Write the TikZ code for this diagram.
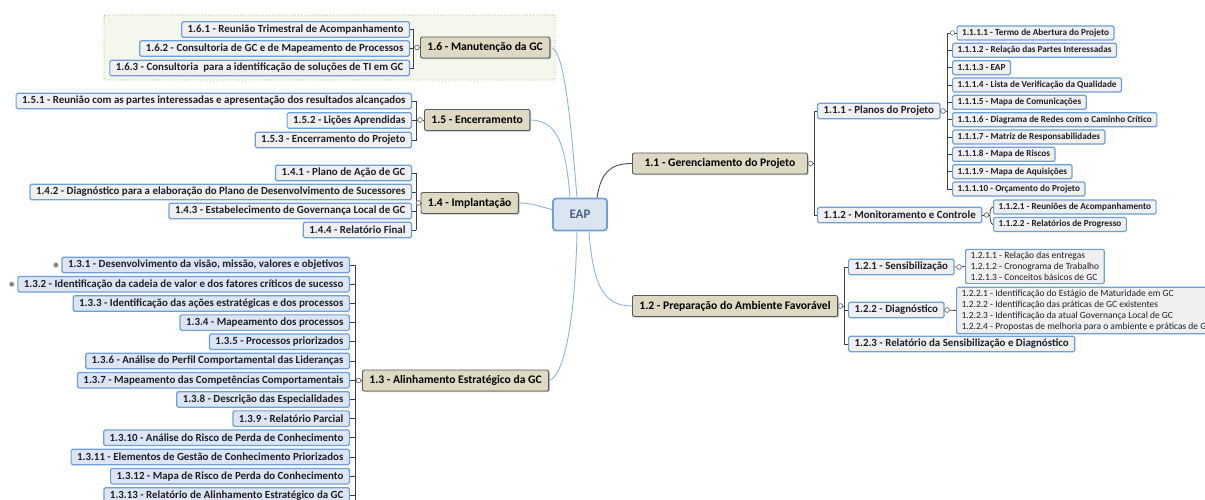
\documentclass[tikz,border=0pt]{standalone}
\usepackage{fontspec}
\setmainfont{Carlito}
\usetikzlibrary{shadows}

\definecolor{topicblue}{HTML}{6F9FD8}
\definecolor{subgray}{HTML}{F0F0F0}
\definecolor{subblue}{HTML}{DCE6F2}
\definecolor{mainfill}{HTML}{DDD9C3}
\definecolor{mainedge}{HTML}{5A5A5A}
\definecolor{linkblue}{HTML}{8EB4E3}
\definecolor{rootfill}{HTML}{DBE5F1}
\definecolor{roottext}{HTML}{4A6282}
\definecolor{zonefill}{HTML}{F4F7EC}
\definecolor{zoneedge}{HTML}{9BBB59}
\definecolor{inktext}{HTML}{1E1E2A}

\begin{document}
\begin{tikzpicture}[x=1pt,y=-1pt,
  root/.style={draw=topicblue, line width=1.8pt, fill=rootfill, rounded corners=3pt,
    minimum width=54pt, minimum height=32pt, text=roottext,
    font=\fontsize{13}{15}\selectfont\bfseries},
  main/.style={draw=mainedge, line width=0.9pt, fill=mainfill, rounded corners=2pt,
    inner xsep=7pt, inner ysep=0pt, minimum height=21pt, text=black,
    font=\fontsize{11.6}{13}\selectfont\bfseries,
    drop shadow={shadow xshift=1.2pt, shadow yshift=-1.2pt, fill=black, opacity=.25}},
  sub/.style={draw=topicblue, line width=1.2pt, fill=subgray, rounded corners=1.5pt,
    inner xsep=6pt, inner ysep=0pt, minimum height=15.5pt, text=inktext,
    font=\fontsize{10.9}{12}\selectfont\bfseries},
  subb/.style={sub, fill=subblue},
  leaf/.style={sub, minimum height=14pt, inner xsep=5pt,
    font=\fontsize{9.2}{10}\selectfont\bfseries},
  note/.style={draw=topicblue, line width=1.2pt, fill=subgray, rounded corners=1.5pt,
    align=left, inner xsep=5pt, inner ysep=3pt, text=inktext,
    font=\fontsize{9.5}{10.8}\selectfont},
  bar/.style={draw=black!75, line width=0.8pt},
  knob/.style={circle, draw=black!55, fill=white, line width=0.6pt, inner sep=0pt, minimum size=4.6pt},
  dot/.style={circle, fill=black!50, draw=black!25, line width=0.6pt, inner sep=0pt, minimum size=4.8pt},
  link/.style={draw=linkblue, line width=0.9pt},
  darklink/.style={draw=black!70, line width=0.9pt},
  zone/.style={draw=zoneedge, fill=zonefill, dotted, line width=0.9pt, rounded corners=2pt}
]
\useasboundingbox (0,0) rectangle (1205,500);
\clip (0,0) rectangle (1205,500);
\fill[white] (0,0) rectangle (1205,500);

% boundary of the maintenance group
\path[zone] (104,15) rectangle (555,80);

% ---------- central node and first-level topics ----------
\node[root] (eap) at (580,214.5) {EAP};

\node[main, anchor=west, minimum width=175pt] (n11) at (632,163.5) {1.1 - Gerenciamento do Projeto};
\node[main, anchor=west] (n12) at (632,306) {1.2 - Preparação do Ambiente Favorável};
\node[main, anchor=west] (n13) at (362,380.5) {1.3 - Alinhamento Estratégico da GC};
\node[main, anchor=west] (n14) at (420.5,203) {1.4 - Implantação};
\node[main, anchor=west] (n15) at (424,120) {1.5 - Encerramento};
\node[main, anchor=west] (n16) at (420,47.5) {1.6 - Manutenção da GC};

% ---------- links from the centre ----------
\draw[link] (n16.east) .. controls +(12,0) and +(-8,-100) .. ([xshift=-3pt]eap.north);
\draw[link] (n15.east) .. controls +(28,0) and +(-4,-50) .. ([xshift=-10pt]eap.north);
\draw[link] (n14.east) .. controls +(15,0) and +(-10,-2) .. ([yshift=5pt]eap.west);
\draw[link] ([xshift=-3pt]eap.south) .. controls +(-2,95) and +(14,-4) .. (n13.east);
\draw[link] ([xshift=9pt]eap.south) .. controls +(4,55) and +(-28,0) .. (n12.west);
\draw[darklink] ([xshift=17pt]eap.north) .. controls +(4,-25) and +(-22,0) .. (n11.west);

% ---------- 1.6 ----------
\node[sub, anchor=east] (n161) at (410,29.5) {1.6.1 - Reunião Trimestral de Acompanhamento};
\node[sub, anchor=east] (n162) at (410,48.5) {1.6.2 - Consultoria de GC e de Mapeamento de Processos};
\node[sub, anchor=east] (n163) at (410,68) {1.6.3 - Consultoria\ \ para a identificação de soluções de TI em GC};
\coordinate (b16) at (413.5,47.5);
\foreach \c in {n161,n162,n163} \draw[bar] (\c.east) -- (\c.east -| b16);
\draw[bar] (n161.east -| b16) -- (n163.east -| b16);
\node[knob] (k16) at (417,47.5) {};
\draw[bar] (b16) -- (k16) (k16) -- (n16.west);
\node[knob] at (k16) {};

% ---------- 1.5 ----------
\node[sub, anchor=east] (n151) at (412,101) {1.5.1 - Reunião com as partes interessadas e apresentação dos resultados alcançados};
\node[sub, anchor=east] (n152) at (412,120.5) {1.5.2 - Lições Aprendidas};
\node[sub, anchor=east] (n153) at (412,140) {1.5.3 - Encerramento do Projeto};
\coordinate (b15) at (416.5,120);
\foreach \c in {n151,n152,n153} \draw[bar] (\c.east) -- (\c.east -| b15);
\draw[bar] (n151.east -| b15) -- (n153.east -| b15);
\node[knob] (k15) at (420,120) {};
\draw[bar] (b15) -- (k15) (k15) -- (n15.west);
\node[knob] at (k15) {};

% ---------- 1.4 ----------
\node[sub, anchor=east] (n141) at (412,173) {1.4.1 - Plano de Ação de GC};
\node[sub, anchor=east] (n142) at (412,192) {1.4.2 - Diagnóstico para a elaboração do Plano de Desenvolvimento de Sucessores};
\node[sub, anchor=east] (n143) at (412,211) {1.4.3 - Estabelecimento de Governança Local de GC};
\node[sub, anchor=east] (n144) at (412,230) {1.4.4 - Relatório Final};
\coordinate (b14) at (416,203);
\foreach \c in {n141,n142,n143,n144} \draw[bar] (\c.east) -- (\c.east -| b14);
\draw[bar] (n141.east -| b14) -- (n144.east -| b14);
\node[knob] (k14) at (418.5,203) {};
\draw[bar] (b14) -- (k14) (k14) -- (n14.west);
\node[knob] at (k14) {};

% ---------- 1.3 ----------
\node[subb, anchor=east] (n131)  at (350,265)   {1.3.1 - Desenvolvimento da visão, missão, valores e objetivos};
\node[subb, anchor=east] (n132)  at (350,284.2) {1.3.2 - Identificação da cadeia de valor e dos fatores críticos de sucesso};
\node[subb, anchor=east] (n133)  at (350,303.4) {1.3.3 - Identificação das ações estratégicas e dos processos};
\node[subb, anchor=east] (n134)  at (350,322.6) {1.3.4 - Mapeamento dos processos};
\node[subb, anchor=east] (n135)  at (350,341.8) {1.3.5 - Processos priorizados};
\node[subb, anchor=east] (n136)  at (350,361)   {1.3.6 - Análise do Perfil Comportamental das Lideranças};
\node[subb, anchor=east] (n137)  at (350,380.2) {1.3.7 - Mapeamento das Competências Comportamentais};
\node[subb, anchor=east] (n138)  at (350,399.4) {1.3.8 - Descrição das Especialidades};
\node[subb, anchor=east] (n139)  at (350,418.6) {1.3.9 - Relatório Parcial};
\node[subb, anchor=east] (n1310) at (350,437.8) {1.3.10 - Análise do Risco de Perda de Conhecimento};
\node[subb, anchor=east] (n1311) at (350,457)   {1.3.11 - Elementos de Gestão de Conhecimento Priorizados};
\node[subb, anchor=east] (n1312) at (350,476.2) {1.3.12 - Mapa de Risco de Perda do Conhecimento};
\node[subb, anchor=east] (n1313) at (350,495.4) {1.3.13 - Relatório de Alinhamento Estratégico da GC};
\coordinate (b13) at (355,380.5);
\foreach \c in {n131,n132,n133,n134,n135,n136,n137,n138,n139,n1310,n1311,n1312,n1313}
  \draw[bar] (\c.east) -- (\c.east -| b13);
\draw[bar] (n131.east -| b13) -- ([yshift=-12pt]n1313.east -| b13);
\node[knob] (k13) at (358.5,380.5) {};
\draw[bar] (b13) -- (k13) (k13) -- (n13.west);
\node[knob] at (k13) {};
\node[dot] (d131) at (n131.west) [xshift=-5.5pt] {};
\node[dot] (d132) at (n132.west) [xshift=-5.5pt] {};

% ---------- 1.1 ----------
\node[sub, anchor=west] (n111) at (817,111) {1.1.1 - Planos do Projeto};
\node[sub, anchor=west] (n112) at (817,215) {1.1.2 - Monitoramento e Controle};
\coordinate (b11) at (814,163.5);
\foreach \c in {n111,n112} \draw[bar] (\c.west) -- (\c.west -| b11);
\draw[bar] (n111.west -| b11) -- (n112.west -| b11);
\node[knob] (k11) at (810.5,163.5) {};
\draw[bar] (n11.east) -- (k11) (k11) -- (b11);
\node[knob] at (k11) {};

% 1.1.1 plans
\node[leaf, anchor=west] (n1111)  at (956.5,33)   {1.1.1.1 - Termo de Abertura do Projeto};
\node[leaf, anchor=west] (n1112)  at (952,50.3)   {1.1.1.2 - Relação das Partes Interessadas};
\node[leaf, anchor=west] (n1113)  at (952,67.7)   {1.1.1.3 - EAP};
\node[leaf, anchor=west] (n1114)  at (952,85)     {1.1.1.4 - Lista de Verificação da Qualidade};
\node[leaf, anchor=west] (n1115)  at (952,102.3)  {1.1.1.5 - Mapa de Comunicações};
\node[leaf, anchor=west] (n1116)  at (952,119.7)  {1.1.1.6 - Diagrama de Redes com o Caminho Crítico};
\node[leaf, anchor=west] (n1117)  at (952,137)    {1.1.1.7 - Matriz de Responsabilidades};
\node[leaf, anchor=west] (n1118)  at (952,154.3)  {1.1.1.8 - Mapa de Riscos};
\node[leaf, anchor=west] (n1119)  at (952,171.7)  {1.1.1.9 - Mapa de Aquisições};
\node[leaf, anchor=west] (n11110) at (952,189)    {1.1.1.10 - Orçamento do Projeto};
\coordinate (b111) at (947,111);
\foreach \c in {n1111,n1112,n1113,n1114,n1115,n1116,n1117,n1118,n1119,n11110}
  \draw[bar] (\c.west) -- (\c.west -| b111);
\draw[bar] (n1111.west -| b111) -- (n11110.west -| b111);
\node[knob] (k111) at (943,111) {};
\draw[bar] (n111.east) -- (k111) (k111) -- (b111);
\node[knob] at (k111) {};
\node[knob] (k1111) at (952.5,33) {};

% 1.1.2 monitoring
\node[leaf, anchor=west] (n1121) at (993,207)   {1.1.2.1 - Reuniões de Acompanhamento};
\node[leaf, anchor=west] (n1122) at (993,224.5) {1.1.2.2 - Relatórios de Progresso};
\node[knob] (k112) at (986.5,215) {};
\coordinate (b112) at (990,215);
\draw[bar] (n112.east) -- (k112) (k112) -- (b112);
\draw[bar] (n1121.west) .. controls (990.5,207.5) and (990,211) .. (b112)
                         .. controls (990,219) and (990.5,224) .. (n1122.west);
\node[knob] at (k112) {};

% ---------- 1.2 ----------
\node[sub, anchor=west] (n121) at (848,267) {1.2.1 - Sensibilização};
\node[sub, anchor=west] (n122) at (848,310) {1.2.2 - Diagnóstico};
\node[sub, anchor=west] (n123) at (848,344) {1.2.3 - Relatório da Sensibilização e Diagnóstico};
\coordinate (b12) at (844,306);
\foreach \c in {n121,n122,n123} \draw[bar] (\c.west) -- (\c.west -| b12);
\draw[bar] (n121.west -| b12) -- (n123.west -| b12);
\node[knob] (k12) at (840.5,306) {};
\draw[bar] (n12.east) -- (k12) (k12) -- (b12);
\node[knob] at (k12) {};

\node[note, anchor=west] (n121x) at (965,266.5)
  {1.2.1.1 - Relação das entregas\\1.2.1.2 - Cronograma de Trabalho\\1.2.1.3 - Conceitos básicos de GC};
\node[knob] (k121) at (959,267) {};
\draw[bar] (n121.east) -- (k121) (k121) -- (n121x.west);
\node[knob] at (k121) {};

\node[note, anchor=west] (n122x) at (956,310.5)
  {1.2.2.1 - Identificação do Estágio de Maturidade em GC\\1.2.2.2 - Identificação das práticas de GC existentes\\1.2.2.3 - Identificação da atual Governança Local de GC\\1.2.2.4 - Propostas de melhoria para o ambiente e práticas de GC};
\node[knob] (k122) at (947,310) {};
\draw[bar] (n122.east) -- (k122) (k122) -- (n122x.west);
\node[knob] at (k122) {};

\end{tikzpicture}
\end{document}
